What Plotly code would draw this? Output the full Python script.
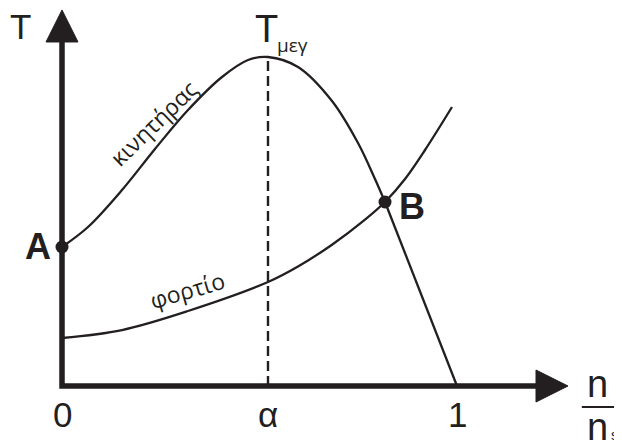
import plotly.graph_objects as go

# torque-speed curves, speed as n/ns, torque relative to T_max
MOTOR_X = [0.0, 0.0658, 0.1519, 0.2354, 0.3190, 0.4051, 0.4709, 0.5215,
           0.5975, 0.6835, 0.7494, 0.7924, 0.8177]
MOTOR_T = [0.4225, 0.4833, 0.5957, 0.7204, 0.8389, 0.9392, 0.9909, 1.0,
           0.9696, 0.8663, 0.7386, 0.6292, 0.5593]
# straight falling part after B
MOTOR_TAIL_X = [0.8177, 1.0]
MOTOR_TAIL_T = [0.5593, 0.0]

LOAD_X = [0.0, 0.1519, 0.3190, 0.5215, 0.5975, 0.6835, 0.7671, 0.8177,
          0.8684, 0.9190, 0.9873]
LOAD_T = [0.1459, 0.1702, 0.2280, 0.3161, 0.3632, 0.4295, 0.5058, 0.5593,
          0.6292, 0.7173, 0.8480]

POINT_NAMES = ['A', 'B']
POINT_X = [0.0, 0.8177]
POINT_T = [0.4225, 0.5593]

ALPHA = 0.5215
T_MAX = 1.0
TICK_VALS = [0.0, ALPHA, 1.0]
TICK_TEXT = ['0', 'α', '1']

INK = '#231f20'
SANS = 'Liberation Sans, Arial, sans-serif'
HUMANIST = 'Open Sans, Noto Sans, sans-serif'

fig = go.Figure()

fig.add_trace(go.Scatter(x=MOTOR_X, y=MOTOR_T, mode='lines',
                         line=dict(color=INK, width=2.3, shape='spline', smoothing=1)))
fig.add_trace(go.Scatter(x=MOTOR_TAIL_X, y=MOTOR_TAIL_T, mode='lines',
                         line=dict(color=INK, width=2.3)))
fig.add_trace(go.Scatter(x=LOAD_X, y=LOAD_T, mode='lines',
                         line=dict(color=INK, width=2.3, shape='spline', smoothing=1)))
fig.add_trace(go.Scatter(x=POINT_X, y=POINT_T, mode='markers',
                         marker=dict(color=INK, size=13)))

# T_max marker line
fig.add_shape(type='line', x0=ALPHA, x1=ALPHA, y0=0, y1=T_MAX,
              line=dict(color=INK, width=2.4, dash='10px,5px'))

# axes with arrow heads
fig.add_shape(type='path', path='M 0,1.05 L 0,0 L 1.2,0',
              line=dict(color=INK, width=5.5))
fig.add_shape(type='path', path='M 0,1.1429 L -0.0405,1.0456 L 0.0405,1.0456 Z',
              fillcolor=INK, line=dict(color=INK, width=1))
fig.add_shape(type='path', path='M 1.281,0 L 1.2,0.0486 L 1.2,-0.0486 Z',
              fillcolor=INK, line=dict(color=INK, width=1))

# fraction bar n / ns
fig.add_shape(type='line', x0=1.316, x1=1.45, y0=-0.0638, y1=-0.0638,
              line=dict(color=INK, width=2))

def label(x, y, text, size, family=SANS, angle=0, bold=False, xanchor='center', height=None):
    fig.add_annotation(x=x, y=y, text=f'<b>{text}</b>' if bold else text,
                       showarrow=False, textangle=angle, xanchor=xanchor, height=height,
                       font=dict(family=family, size=size, color=INK))

for v, t in zip(TICK_VALS, TICK_TEXT):
    label(v, -0.088, t, 35)

for name, x, y in zip(POINT_NAMES, POINT_X, POINT_T):
    dx = -0.061 if x == 0 else 0.068
    label(x + dx, y + (0.003 if x == 0 else -0.015), name, 36, bold=True)

label(-0.1063, 1.094, 'T', 35)
label(ALPHA - 0.005, 1.085, 'T', 38)
label(ALPHA + 0.063, 1.035, 'μεγ', 19, HUMANIST)
label(0.231, 0.80, 'κινητήρας', 23, HUMANIST, angle=-44)
label(0.3165, 0.2918, 'φορτίο', 23, HUMANIST, angle=-16)
label(1.3544, 0.006, 'n', 38)
label(1.3544, -0.1234, 'n', 38, height=34)
label(1.384, -0.15, 's', 14, xanchor='left', height=16)

# page body adds an 8px margin, so the figure is 8px smaller and the ranges shifted
fig.update_xaxes(range=[-0.1367, 1.4177], visible=False, fixedrange=True)
fig.update_yaxes(range=[-0.1793, 1.1489], visible=False, fixedrange=True)
fig.update_layout(width=614, height=437, margin=dict(l=0, r=0, t=0, b=0),
                  plot_bgcolor='white', paper_bgcolor='white', showlegend=False)

fig.write_html('out.html')
